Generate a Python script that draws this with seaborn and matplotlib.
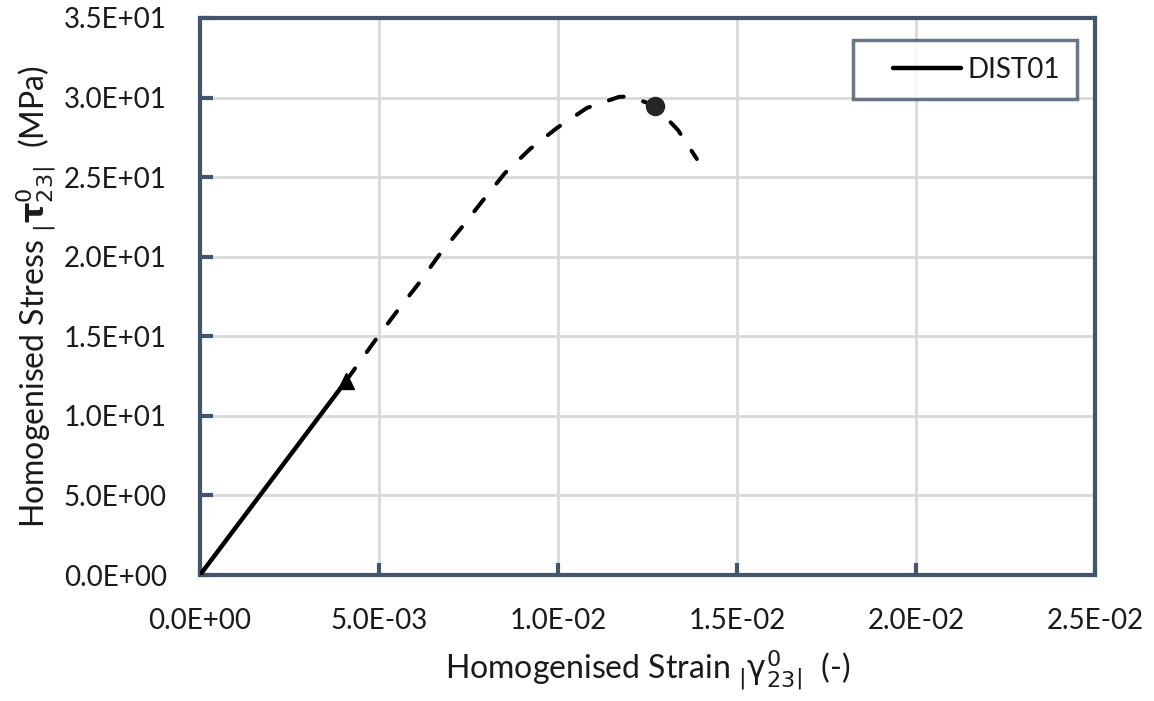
import matplotlib
matplotlib.use("Agg")
import matplotlib.pyplot as plt
from matplotlib.legend_handler import HandlerLine2D
import seaborn as sns
import pandas as pd

# Elastic (pre-peak linear) branch
linear_strain = [0.0, 0.00408]
linear_stress = [0.0, 12.2]

# Damage branch up to and beyond the peak
damage_strain = [0.00408, 0.00494, 0.00553, 0.00612, 0.00668, 0.00732, 0.00791,
                 0.00852, 0.00922, 0.00997, 0.01081, 0.01170, 0.01196, 0.01243,
                 0.01271, 0.01335, 0.01388]
damage_stress = [12.2, 14.89, 16.65, 18.35, 20.11, 21.87, 23.56,
                 25.26, 26.77, 28.09, 29.35, 30.04, 30.07, 29.72,
                 29.47, 27.96, 26.14]

# Markers: onset of damage and peak stress
onset_point = (0.00408, 12.2)
peak_point = (0.01271, 29.47)

series_label = "DIST01"
x_ticks = [0.0, 0.005, 0.010, 0.015, 0.020, 0.025]
x_tick_labels = ["0.0E+00", "5.0E-03", "1.0E-02", "1.5E-02", "2.0E-02", "2.5E-02"]
y_ticks = [0, 5, 10, 15, 20, 25, 30, 35]
y_tick_labels = ["0.0E+00", "5.0E+00", "1.0E+01", "1.5E+01", "2.0E+01",
                 "2.5E+01", "3.0E+01", "3.5E+01"]

sns.set_theme(style="white")
plt.rcParams["font.family"] = ["Lato", "DejaVu Sans"]
plt.rcParams["mathtext.fontset"] = "dejavusans"
plt.rcParams["xtick.major.pad"] = 24
plt.rcParams["ytick.major.pad"] = 24

frame_color = "#44546A"
grid_color = "#D9D9D9"
text_color = "#1a1a1a"

fig = plt.figure(figsize=(11.54, 7.01), dpi=100)
ax = fig.add_axes([200 / 1154, 1 - 575 / 701, 895 / 1154, 557 / 701])

lin_df = pd.DataFrame({"strain": linear_strain, "stress": linear_stress})
dmg_df = pd.DataFrame({"strain": damage_strain, "stress": damage_stress})

sns.lineplot(data=lin_df, x="strain", y="stress", ax=ax, color="black",
             linewidth=3.2, sort=False, label=series_label, zorder=4)
sns.lineplot(data=dmg_df, x="strain", y="stress", ax=ax, color="black",
             linewidth=2.9, sort=False, zorder=4, legend=False)
dash_line = ax.lines[-1]
dash_line.set_linestyle((0, (3.8, 5.0)))
dash_line.set_dash_capstyle("round")

ax.plot([onset_point[0]], [onset_point[1]], marker="^", markersize=12,
        color="black", linestyle="none", zorder=5)
ax.plot([peak_point[0]], [peak_point[1]], marker="o", markersize=13,
        color="#262626", linestyle="none", zorder=5)

ax.set_xlim(0, 0.025)
ax.set_ylim(0, 35)
ax.set_xticks(x_ticks)
ax.set_xticklabels(x_tick_labels)
ax.set_yticks(y_ticks)
ax.set_yticklabels(y_tick_labels)
ax.grid(True, color=grid_color, linewidth=2)
ax.set_axisbelow(True)

for side in ax.spines.values():
    side.set_color(frame_color)
    side.set_linewidth(3)
    side.set_visible(True)

ax.tick_params(axis="both", which="major", direction="in", length=9,
               width=3, color=frame_color, labelsize=20, labelcolor=text_color,
               top=False, right=False, left=True, bottom=True)

ax.set_xlabel(r"Homogenised Strain $_{|}\mathrm{\gamma}^{0}_{23}{}_{|}$  (-)",
              fontsize=23, color=text_color, labelpad=10)
ax.set_ylabel(r"Homogenised Stress $_{|}\mathbf{\tau}^{0}_{23}{}_{|}$  (MPa)",
              fontsize=23, color=text_color, labelpad=4)

leg = ax.legend(loc="upper right", bbox_to_anchor=(0.98, 0.9605),
                borderaxespad=0, fancybox=False, frameon=True,
                fontsize=20, handlelength=3.3, handletextpad=0.25,
                borderpad=0.6,
                handler_map={plt.Line2D: HandlerLine2D(xpad=0.85)})
leg.get_frame().set_edgecolor(frame_color)
leg.get_frame().set_linewidth(2.5)
for t in leg.get_texts():
    t.set_color(text_color)

fig.savefig("out.png", dpi=100)
